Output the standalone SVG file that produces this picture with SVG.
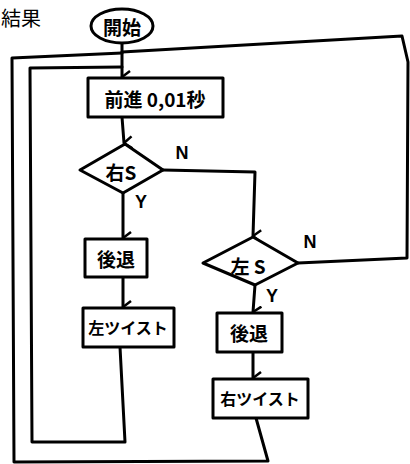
<svg xmlns="http://www.w3.org/2000/svg" width="410" height="464" viewBox="0 0 410 464">
<defs>
<style>
.s{fill:#fff;stroke:#000;stroke-width:3;stroke-linejoin:round}
.c{fill:none;stroke:#000;stroke-width:3;stroke-linejoin:round;stroke-linecap:round}
.t{font-family:"Noto Sans CJK JP","Noto Sans",sans-serif;font-size:19px;font-weight:bold;fill:#000;text-anchor:middle;dominant-baseline:central}
.w{font-size:16px}
.l{font-family:"Liberation Sans",sans-serif;font-size:18px;font-weight:bold;fill:#000;text-anchor:middle;dominant-baseline:central}
</style>
<marker id="a" viewBox="0 0 14 14" refX="7" refY="13" markerWidth="14" markerHeight="14" markerUnits="userSpaceOnUse" orient="auto-start-reverse">
<path d="M1 5 L7 13 L13 5" fill="none" stroke="#000" stroke-width="2.5"/>
</marker>
</defs>
<text x="21" y="17" class="t" style="font-weight:normal;font-size:20px">結果</text>
<g id="connectors">
<path class="c" d="M122 43 L122 77" marker-end="url(#a)"/>
<path class="c" d="M122 117 L124 143" marker-end="url(#a)"/>
<path class="c" d="M123 193 L123 238" marker-end="url(#a)"/>
<path class="c" d="M123 277 L123 307" marker-end="url(#a)"/>
<path class="c" d="M163 170 L255 172 L253 236" marker-end="url(#a)"/>
<path class="c" d="M255 285 L253 312" marker-end="url(#a)"/>
<path class="c" d="M253 352 L253 378" marker-end="url(#a)"/>
<path class="c" d="M120 347 L125 442 L32 442 L30 68 L122 67"/>
<path class="c" d="M256 418 L268 461 L14 462 L12 58 L122 53"/>
<path class="c" d="M298 263 L407 258 L408 62 L402 36 L122 52"/>
</g>
<g id="start">
<ellipse class="s" cx="122" cy="26" rx="31" ry="17"/>
<text x="122" y="26" class="t">開始</text>
</g>
<g id="forward">
<rect class="s" x="88" y="78" width="135" height="39"/>
<text x="155" y="98" class="t">前進 0,01秒</text>
</g>
<g id="rightS">
<polygon class="s" points="125,144 163,170 123,193 80,170"/>
<text x="121" y="171" class="t">右S</text>
<text x="182" y="153" class="l">N</text>
<text x="141" y="202" class="l">Y</text>
</g>
<g id="back1">
<rect class="s" x="85" y="239" width="62" height="38"/>
<text x="116" y="258" class="t">後退</text>
</g>
<g id="leftTwist">
<rect class="s" x="83" y="308" width="91" height="39"/>
<text x="128" y="327" class="t w">左ツイスト</text>
</g>
<g id="leftS">
<polygon class="s" points="253,237 298,263 255,285 203,263"/>
<text x="248" y="265" class="t">左 S</text>
<text x="310" y="242" class="l">N</text>
<text x="272" y="296" class="l">Y</text>
</g>
<g id="back2">
<rect class="s" x="217" y="313" width="65" height="39"/>
<text x="249" y="332" class="t">後退</text>
</g>
<g id="rightTwist">
<rect class="s" x="213" y="379" width="95" height="39"/>
<text x="260" y="398" class="t w">右ツイスト</text>
</g>
</svg>
